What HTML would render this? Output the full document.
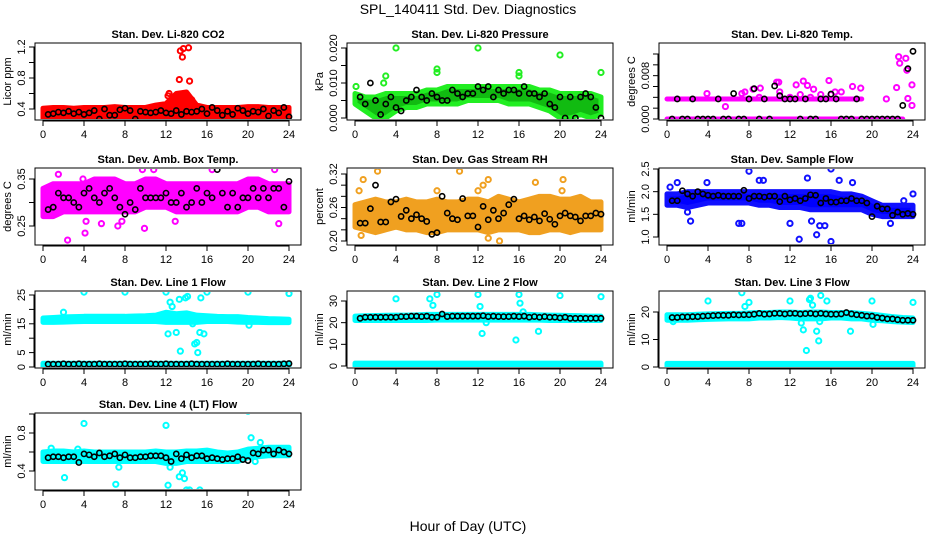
<!DOCTYPE html>
<html><head><meta charset="utf-8"><title>SPL_140411 Std. Dev. Diagnostics</title>
<style>
html,body{margin:0;padding:0;background:#fff;}
svg{display:block;font-family:"Liberation Sans",Arial,sans-serif;}
</style></head>
<body>
<svg id="chart" width="936" height="540" viewBox="0 0 936 540" xmlns="http://www.w3.org/2000/svg">
<text x="468" y="14" text-anchor="middle" font-size="14">SPL_140411  Std. Dev. Diagnostics</text>
<text x="468" y="531" text-anchor="middle" font-size="14">Hour of Day (UTC)</text>
</svg>
<script>
// ---------- data ----------
const xTicks = [0,4,8,12,16,20,24];
// CO2
const co2Lo = [0.28,0.28,0.28,0.28,0.28,0.28,0.28,0.28,0.28,0.28,0.28,0.28,0.28,0.28,0.28,0.28,0.28,0.28,0.28,0.28,0.28,0.28,0.28,0.28,0.28];
const co2Hi = [0.41,0.42,0.42,0.41,0.42,0.42,0.42,0.43,0.42,0.42,0.42,0.45,0.47,0.6,0.62,0.45,0.42,0.42,0.42,0.42,0.43,0.43,0.42,0.42,0.42];
const co2OutX = [12.2,13.3,13.4,13.6,13.7,14.2,14.3,12.4,14.5,12.3];
const co2OutY = [0.57,0.78,1.15,1.07,1.18,1.19,0.76,0.5,0.52,0.6];
const co2Black = [0.33,0.34,0.36,0.35,0.37,0.34,0.36,0.33,0.35,0.38,0.27,0.40,0.32,0.32,0.39,0.41,0.38,0.27,0.37,0.36,0.35,0.36,0.38,0.35,0.34,0.38,0.33,0.37,0.36,0.37,0.40,0.34,0.42,0.38,0.32,0.37,0.33,0.41,0.38,0.34,0.37,0.36,0.40,0.31,0.38,0.35,0.42,0.30];
// Pressure
const prLo = [0.004,0.002,0,0,0.002,0.003,0.003,0.004,0.004,0.004,0.004,0.005,0.005,0.005,0.005,0.004,0.004,0.004,0.003,0.002,0,0,0.001,0,0.001];
const prHi = [0.007,0.006,0.006,0.007,0.007,0.007,0.007,0.008,0.008,0.009,0.009,0.009,0.009,0.009,0.009,0.009,0.009,0.009,0.008,0.008,0.007,0.007,0.007,0.007,0.006];
const prOutX = [0.1,3,4,8,8,12,16,16,20,24,2.8];
const prOutY = [0.009,0.012,0.020,0.014,0.013,0.020,0.013,0.012,0.018,0.013,0.010];
const prBlack = [0.006,0.004,0.010,0.005,0.001,0.004,0.006,0.003,0.002,0.005,0.006,0.008,0.006,0.005,0.007,0.006,0.005,0.005,0.008,0.007,0.006,0.007,0.007,0.009,0.008,0.009,0.006,0.008,0.007,0.008,0.008,0.007,0.009,0.007,0.007,0.006,0.007,0.004,0.003,0.006,0.000,0.006,0.000,0.006,0.007,0.006,0.003,0.000];
// Li-820 Temp
const tpLo0 = [0,0,0,0,0,0,0,0,0,0,0,0,0,0,0,0,0,0,0,0,0,0,0,0,null];
const tpHi0 = [0,0,0,0,0,0,0,0,0,0,0,0,0,0,0,0,0,0,0,0,0,0,0,0,null];
const tpLo1 = [0.0037,0.0037,0.0037,0.0037,0.0037,0.0037,0.0037,0.0037,0.0037,0.0037,0.0037,0.0037,0.0037,0.0037,0.0037,0.0037,0.0037,0.0037,0.0037,0.0037,null,null,null,null,null];
const tpHi1 = [0.0037,0.0037,0.0037,0.0037,0.0037,0.0037,0.0037,0.0037,0.0037,0.0037,0.0037,0.0037,0.0037,0.0037,0.0037,0.0037,0.0037,0.0037,0.0037,0.0037,null,null,null,null,null];
const tpOutX = [3.9,5.7,7.3,7.6,8.4,9.1,10.7,10.9,12.6,13.3,13.7,14.3,15.8,16.4,18.1,18.9,22.4,22.6,22.7,23.3,23.4,23.9,23.9,23.5,21.4,9,11,12,13,14,15,16,17];
const tpOutY = [0.0047,0.0023,0.0047,0.005,0.0055,0.0057,0.0068,0.0068,0.0063,0.007,0.0062,0.0055,0.0071,0.005,0.006,0.0057,0.0058,0.0115,0.0103,0.0112,0.009,0.0063,0.0025,0.0038,0.0037,0.004,0.005,0.004,0.0045,0.004,0.0045,0.0045,0.005];
const tpBlack = [0,0.0037,0,0,0.0037,0,0,0,0,0.0037,0,0,0.0047,0,0,0.0037,0.0056,0,0.0037,0,0.0061,0.0043,0.0037,0.0037,0.0037,0,0.0037,0,0,0.0037,0.0037,0.0046,0.0037,0,0,0,0.0037,0,0,0,0,0,0,0,0,0.0025,0.0093,0.0125];
// Amb box temp
const abLo = [0.27,0.27,0.28,0.28,0.28,0.28,0.28,0.28,0.28,0.28,0.29,0.29,0.29,0.28,0.28,0.28,0.28,0.28,0.28,0.28,0.29,0.29,0.28,0.28,0.28];
const abHi = [0.33,0.34,0.34,0.34,0.34,0.35,0.35,0.35,0.34,0.34,0.35,0.35,0.34,0.34,0.34,0.34,0.34,0.34,0.34,0.34,0.35,0.35,0.34,0.34,0.34];
const abOutX = [2.4,4.1,4.2,5.7,7.3,7.7,9.9,12.9,9.7,10.8,16.5,22.6,23,1.5,3.9];
const abOutY = [0.22,0.235,0.26,0.255,0.25,0.26,0.245,0.26,0.37,0.37,0.37,0.37,0.255,0.36,0.35];
const abBlack = [0.285,0.29,0.32,0.31,0.31,0.30,0.29,0.32,0.33,0.31,0.30,0.32,0.33,0.31,0.29,0.275,0.30,0.285,0.33,0.31,0.31,0.31,0.31,0.32,0.30,0.30,0.32,0.29,0.30,0.33,0.30,0.32,0.31,0.37,0.32,0.29,0.32,0.29,0.31,0.31,0.33,0.31,0.33,0.31,0.33,0.33,0.29,0.345];
// RH
const rhLo = [0.225,0.22,0.215,0.22,0.225,0.22,0.22,0.215,0.215,0.22,0.22,0.22,0.22,0.215,0.22,0.22,0.22,0.215,0.215,0.22,0.22,0.215,0.22,0.22,0.22];
const rhHi = [0.265,0.27,0.275,0.27,0.27,0.275,0.27,0.27,0.275,0.27,0.27,0.275,0.275,0.27,0.28,0.275,0.27,0.275,0.28,0.28,0.275,0.275,0.28,0.27,0.27];
const rhOutX = [0.4,0.8,2.2,8,10.2,12,12.5,13,17.6,20.3,20.2,13,14.1,7.5,0.6];
const rhOutY = [0.29,0.31,0.325,0.29,0.325,0.29,0.30,0.31,0.305,0.31,0.29,0.205,0.2,0.27,0.21];
const rhBlack = [0.232,0.232,0.258,0.30,0.234,0.234,0.27,0.275,0.244,0.255,0.24,0.247,0.24,0.235,0.212,0.215,0.28,0.25,0.24,0.238,0.276,0.245,0.245,0.225,0.262,0.238,0.255,0.24,0.25,0.265,0.275,0.24,0.245,0.238,0.243,0.236,0.249,0.239,0.23,0.245,0.25,0.245,0.243,0.236,0.245,0.245,0.25,0.248];
// Sample flow
const sfLo = [1.7,1.7,1.65,1.7,1.75,1.75,1.75,1.75,1.75,1.7,1.7,1.65,1.65,1.65,1.6,1.6,1.6,1.6,1.6,1.6,1.5,1.45,1.45,1.45,1.45];
const sfHi = [1.95,1.95,2.0,2.0,2.0,2.0,2.0,2.0,2.0,2.0,2.0,2.0,2.0,2.0,2.0,2.0,2.0,1.95,1.95,1.9,1.8,1.7,1.7,1.7,1.7];
const sfOutX = [0.3,1,2,2.3,3.9,7,7.3,8,9,9.4,12,12.9,14.1,14.6,14.9,15.4,16,16,16.8,18.1,21.8,23.1,24,13.7];
const sfOutY = [2.1,2.2,1.55,1.35,2.2,1.3,1.3,2.45,2.25,2.25,1.3,0.95,1.35,1.05,1.25,1.25,0.9,2.5,2.25,2.2,1.3,1.8,1.95,2.3];
const sfBlack = [1.8,1.8,2.02,1.95,1.9,2.0,1.95,1.92,1.9,1.92,1.9,1.9,1.9,1.9,2.03,1.85,1.9,1.9,1.88,1.9,1.9,1.78,1.9,1.82,1.85,1.8,1.85,1.93,1.92,1.75,1.85,1.77,1.77,1.8,1.8,1.85,1.8,1.8,1.75,1.45,1.68,1.62,1.62,1.48,1.55,1.5,1.52,1.5];
// Line 1
const l1Lo = [15.5,15.5,15.6,15.7,15.8,15.8,15.8,15.8,15.8,15.8,15.8,15.8,15.5,15.5,15.5,15.5,15.8,15.8,15.8,15.6,15.5,15.5,15.4,15.4,15.4];
const l1Hi = [17,17.2,17.4,17.5,17.6,17.6,17.6,17.6,17.6,17.7,17.8,18,19,18.5,18.8,18,17.8,17.6,17.5,17.5,17.2,17,16.8,16.7,16.6];
const lowLo = [0,0,0,0,0,0,0,0,0,0,0,0,0,0,0,0,0,0,0,0,0,0,0,0,0];
const lowHi = [1.3,1.3,1.3,1.3,1.3,1.3,1.3,1.3,1.3,1.3,1.3,1.3,1.3,1.3,1.3,1.3,1.3,1.3,1.3,1.3,1.3,1.3,1.3,1.3,1.3];
const l1OutX = [2,4,8,12,12.2,12.4,12.6,13,13.3,13.4,13.9,14.1,14.6,14.8,15,15.1,15.3,15.4,15.7,16,20,20.1,24];
const l1OutY = [19,26,26,26,11.5,22.5,21,12,23.5,5.5,24,24.5,15,8,8.5,5,12,24,11.5,26,26,14.5,25.5];
const l1Black = [1.0,1.0,1.0,1.1,1.0,1.0,1.1,1.0,1.0,1.0,1.1,1.0,1.0,1.0,1.0,1.1,1.0,1.0,1.0,1.0,1.1,1.0,1.0,1.1,1.0,1.0,1.0,1.0,1.1,1.0,1.0,1.0,1.0,1.0,1.0,1.1,1.0,1.0,1.0,1.0,1.0,1.1,1.0,1.0,1.0,1.0,1.1,1.2];
// Line 2
const l2Lo = [21,21,21,21,21,21,21,21,21.2,21.2,21.2,21.2,21.2,21.2,21.2,21.2,21.2,21.2,21.2,21,21,21,21,21,21];
const l2Hi = [23,23.2,23.3,23.4,23.5,23.5,23.6,23.8,23.8,23.8,23.8,23.8,23.8,23.8,23.8,23.8,23.8,23.8,23.6,23.5,23.4,23.3,23.2,23,23];
const l2OutX = [4,7.3,7.6,8,12,12.2,12.4,12.8,15.7,16,16.1,16.4,17.9,20,24];
const l2OutY = [31,31,28,33,33,27.5,15,20,12,33,29,25,16,32.5,32];
const l2Black = [22,22.5,22.5,22.5,22.5,22.5,22.5,22.5,22.8,22.8,23,23,22.8,23,22.5,22.5,24,22.8,23,23,23,23,23,23,23.2,22.8,23,22.8,22.8,22.8,23,22.8,23,22.5,22.8,22.5,22.8,22.5,22.5,22.2,22.5,22,22,22,22,22,22,22];
// Line 3
const l3Lo = [17,17,17,17.2,17.3,17.4,17.5,17.5,17.5,17.8,17.8,18,17.8,17.5,17.5,17.5,17.8,17.8,17.5,17.5,17,16.8,16.5,16.3,16.2];
const l3Hi = [19,19,19,19.2,19.3,19.4,19.5,19.5,19.7,19.8,19.8,20,20,19.8,20,20,19.8,19.8,19.8,19.5,19.2,18.8,18.3,18,17.8];
const l3OutX = [0.6,4,7.3,7.6,8,12,13.1,13.3,13.6,13.9,14,14.2,14.6,14.8,15,15.6,17.9,20,20.1,24,14.9];
const l3OutY = [16.5,24,27,22,23.5,24,16,13.5,6,24.5,25,22.5,13,9.5,26,24,13,24,15.5,23.5,16.5];
const l3Black = [18,18,18.2,18.2,18.3,18.3,18.5,18.6,18.7,18.8,18.8,18.8,19,18.9,19,19,19.2,19.5,19.2,19.3,19.5,19.5,19.3,19.5,19.5,19.3,19.4,19.5,19.3,19.5,19.3,19.2,19.2,19.3,19.8,19.3,19,18.8,18.5,18.5,18,17.8,17.5,17.5,17.2,17,17,17];
// Line 4
const l4Lo = [0.5,0.5,0.5,0.5,0.5,0.5,0.5,0.5,0.5,0.5,0.5,0.5,0.48,0.48,0.5,0.5,0.5,0.5,0.5,0.5,0.54,0.55,0.56,0.56,0.56];
const l4Hi = [0.6,0.61,0.61,0.6,0.61,0.6,0.6,0.6,0.6,0.6,0.6,0.61,0.6,0.6,0.61,0.61,0.62,0.6,0.59,0.6,0.63,0.64,0.65,0.65,0.65];
const l4OutX = [2.1,4,7.1,7.4,12,12.2,12.4,13.3,13.6,13.8,14,14.3,15.3,20,20.3,20.7,21.2,0.8,3.4];
const l4OutY = [0.33,0.9,0.26,0.44,0.88,0.25,0.44,0.34,0.38,0.32,0.2,0.2,0.2,1.03,0.75,0.5,0.7,0.64,0.63];
const l4Black = [0.54,0.55,0.55,0.54,0.55,0.55,0.49,0.58,0.57,0.55,0.59,0.55,0.56,0.58,0.54,0.57,0.54,0.54,0.55,0.55,0.56,0.56,0.56,0.54,0.5,0.58,0.53,0.57,0.54,0.56,0.56,0.53,0.54,0.53,0.52,0.53,0.53,0.55,0.52,0.51,0.59,0.58,0.62,0.62,0.58,0.62,0.6,0.58];

// ---------- layout ----------
const NS = "http://www.w3.org/2000/svg";
const svg = document.getElementById("chart");
const colX0 = [43, 355, 667];
const pxPerHour = 246/24;
const rowTop = [43, 168, 291, 413];
const boxH = 77;

function el(tag, attrs, parent){
  const e = document.createElementNS(NS, tag);
  for (const k in attrs) e.setAttribute(k, attrs[k]);
  (parent||svg).appendChild(e);
  return e;
}

const panels = [
  {key:"co2",title:"Stan. Dev. Li-820 CO2",ylab:"Licor ppm",col:0,row:0,color:"#ff0000",edge:"#ff0000",
   yA:0.4,pA:109,yB:1.2,pB:47,ticks:[0.4,0.6,0.8,1.0,1.2],labels:[[0.4,"0.4"],[0.8,"0.8"],[1.2,"1.2"]],
   bands:[[co2Lo,co2Hi]],ox:co2OutX,oy:co2OutY,blk:co2Black},
  {key:"pressure",title:"Stan. Dev. Li-820 Pressure",ylab:"kPa",col:1,row:0,color:"#11bb11",edge:"#22ee22",
   yA:0,pA:118,yB:0.02,pB:48,ticks:[0,0.005,0.01,0.015,0.02],labels:[[0,"0.000"],[0.01,"0.010"],[0.02,"0.020"]],
   bands:[[prLo,prHi]],ox:prOutX,oy:prOutY,blk:prBlack},
  {key:"temp",title:"Stan. Dev. Li-820 Temp.",ylab:"degrees C",col:2,row:0,color:"#ff00ff",edge:"#ff00ff",
   yA:0,pA:119,yB:0.012,pB:54,ticks:[0,0.002,0.004,0.006,0.008,0.010,0.012],labels:[[0,"0.000"],[0.008,"0.008"]],
   bands:[[tpLo0,tpHi0],[tpLo1,tpHi1]],ox:tpOutX,oy:tpOutY,blk:tpBlack},
  {key:"ambtemp",title:"Stan. Dev. Amb. Box Temp.",ylab:"degrees C",col:0,row:1,color:"#ff00ff",edge:"#ff00ff",
   yA:0.25,pA:226,yB:0.35,pB:179,ticks:[0.25,0.3,0.35],labels:[[0.25,"0.25"],[0.35,"0.35"]],
   bands:[[abLo,abHi]],ox:abOutX,oy:abOutY,blk:abBlack},
  {key:"rh",title:"Stan. Dev. Gas Stream RH",ylab:"percent",col:1,row:1,color:"#f0a020",edge:"#f0a020",
   yA:0.20,pA:241,yB:0.32,pB:174,ticks:[0.20,0.22,0.24,0.26,0.28,0.30,0.32],labels:[[0.20,"0.20"],[0.26,"0.26"],[0.32,"0.32"]],
   bands:[[rhLo,rhHi]],ox:rhOutX,oy:rhOutY,blk:rhBlack},
  {key:"sampleflow",title:"Stan. Dev. Sample Flow",ylab:"ml/min",col:2,row:1,color:"#0000ff",edge:"#1010ff",
   yA:1.0,pA:237,yB:2.5,pB:169,ticks:[1.0,1.5,2.0,2.5],labels:[[1.0,"1.0"],[1.5,"1.5"],[2.0,"2.0"],[2.5,"2.5"]],
   bands:[[sfLo,sfHi]],ox:sfOutX,oy:sfOutY,blk:sfBlack},
  {key:"line1",title:"Stan. Dev. Line 1 Flow",ylab:"ml/min",col:0,row:2,color:"#00ffff",edge:"#00ffff",
   yA:0,pA:367,yB:25,pB:295,ticks:[0,5,10,15,20,25],labels:[[0,"0"],[5,"5"],[15,"15"],[25,"25"]],
   bands:[[l1Lo,l1Hi],[lowLo,lowHi]],ox:l1OutX,oy:l1OutY,blk:l1Black},
  {key:"line2",title:"Stan. Dev. Line 2 Flow",ylab:"ml/min",col:1,row:2,color:"#00ffff",edge:"#00ffff",
   yA:0,pA:366,yB:30,pB:301,ticks:[0,10,20,30],labels:[[0,"0"],[10,"10"],[20,"20"],[30,"30"]],
   bands:[[l2Lo,l2Hi],[lowLo,lowHi]],ox:l2OutX,oy:l2OutY,blk:l2Black},
  {key:"line3",title:"Stan. Dev. Line 3 Flow",ylab:"ml/min",col:2,row:2,color:"#00ffff",edge:"#00ffff",
   yA:0,pA:367,yB:20,pB:312,ticks:[0,10,20],labels:[[0,"0"],[10,"10"],[20,"20"]],
   bands:[[l3Lo,l3Hi],[lowLo,lowHi]],ox:l3OutX,oy:l3OutY,blk:l3Black},
  {key:"line4",title:"Stan. Dev. Line 4 (LT) Flow",ylab:"ml/min",col:0,row:3,color:"#00ffff",edge:"#00ffff",
   yA:0.4,pA:471,yB:0.8,pB:433,ticks:[0.4,0.6,0.8,1.0],labels:[[0.4,"0.4"],[0.8,"0.8"]],
   bands:[[l4Lo,l4Hi]],ox:l4OutX,oy:l4OutY,blk:l4Black}
];

panels.forEach(p=>{
  const x0 = colX0[p.col];
  const top = rowTop[p.row];
  const bot = top + boxH;
  const left = x0 - 8, right = x0 + 258;
  const X = h => x0 + h*pxPerHour;
  const Y = v => p.pA + (v - p.yA)*(p.pB - p.pA)/(p.yB - p.yA);

  const g = el("g", {});
  
  

  const clipId = "clip-" + p.key;
  const cp = el("clipPath", {id: clipId}, g);
  el("rect", {x:left+1, y:top+1, width:right-left-2, height:boxH-2}, cp);
  const plot = el("g", {"clip-path":"url(#"+clipId+")"}, g);
  
  

  p.bands.forEach((b, bi)=>{
    const lo = b[0], hi = b[1];
    let seg = [];
    const flush = ()=>{
      if (!seg.length) return;
      const pts = seg.map(i=>X(i)+","+Y(hi[i])).concat(seg.slice().reverse().map(i=>X(i)+","+Y(lo[i])));
      if (seg.length === 1) pts.push((X(seg[0])+1)+","+Y(lo[seg[0]]));
      const poly = el("polygon", {points: pts.join(" "), fill: p.color, stroke: p.edge, "stroke-width": 5, "stroke-linejoin": "round"}, plot);
      
      
      seg = [];
    };
    for (let i = 0; i < lo.length; i++){
      if (lo[i] === null || hi[i] === null) flush(); else seg.push(i);
    }
    flush();
  });

  p.ox.forEach((h, i)=>{
    const c = el("circle", {cx: X(h), cy: Y(p.oy[i]), r: 2.6, fill: "none", stroke: p.edge, "stroke-width": 2}, plot);
    
    
  });

  p.blk.forEach((v, i)=>{
    const c = el("circle", {cx: X(0.5*(i+1)), cy: Y(v), r: 2.6, fill: "none", stroke: "#000", "stroke-width": 1.6}, plot);
    
    
  });

  const box = el("rect", {x: left, y: top, width: right-left, height: boxH, fill: "none", stroke: "#000", "stroke-width": 1}, g);
  
  

  const t = el("text", {x: (left+right)/2, y: top-5, "text-anchor":"middle", "font-size": 11, "font-weight": "bold"}, g);
  t.textContent = p.title;
  
  

  const xa = el("g", {}, g);
  
  
  el("line", {x1: X(xTicks[0]), x2: X(xTicks[xTicks.length-1]), y1: bot+1, y2: bot+1, stroke:"#000"}, xa);
  xTicks.forEach(h=>{
    el("line", {x1: X(h), x2: X(h), y1: bot, y2: bot+6, stroke:"#000"}, xa);
    const tl = el("text", {x: X(h), y: bot+18, "text-anchor":"middle", "font-size": 11}, xa);
    tl.textContent = String(h);
    
    
  });

  const ya = el("g", {}, g);
  
  
  el("line", {x1: left-1, x2: left-1, y1: Y(p.ticks[0]), y2: Y(p.ticks[p.ticks.length-1]), stroke:"#000"}, ya);
  p.ticks.forEach(v=>{
    el("line", {x1: left-6, x2: left, y1: Y(v), y2: Y(v), stroke:"#000"}, ya);
  });
  p.labels.forEach(lb=>{
    const yy = Y(lb[0]);
    const tl = el("text", {x: left-10, y: yy, "text-anchor":"middle", "font-size": 11, transform: "rotate(-90 "+(left-10)+" "+yy+")"}, ya);
    tl.textContent = lb[1];
    
    
  });
  const yl = el("text", {x: left-24, y: (top+bot)/2, "text-anchor":"middle", "font-size": 11, transform: "rotate(-90 "+(left-24)+" "+((top+bot)/2)+")"}, ya);
  yl.textContent = p.ylab;
  
  
});
</script>
</body></html>
